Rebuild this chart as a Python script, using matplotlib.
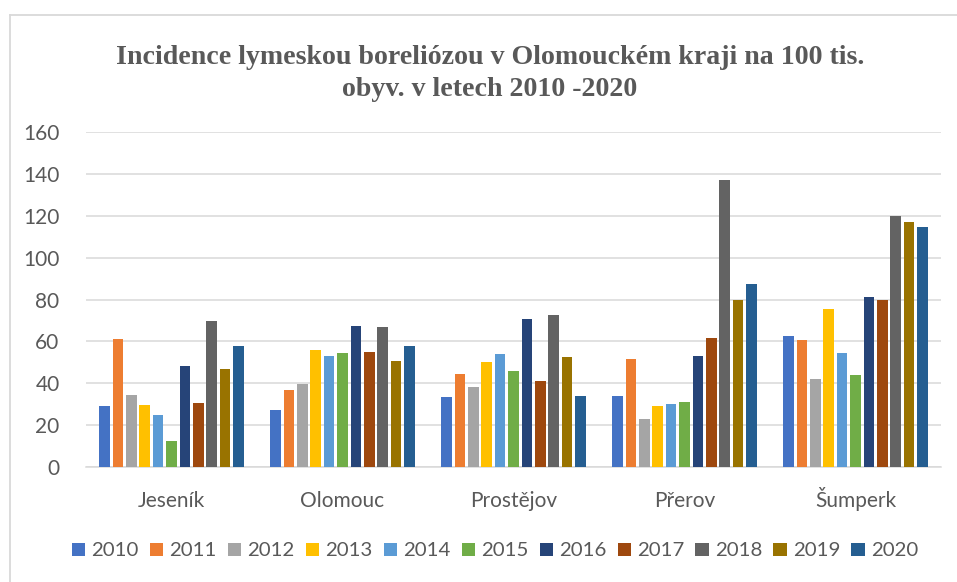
import matplotlib
matplotlib.use("Agg")
from matplotlib import pyplot as plt
from matplotlib.lines import Line2D
import numpy as np

# okresy a roky
okresy = ["Jeseník", "Olomouc", "Prostějov", "Přerov", "Šumperk"]
roky = ["2010", "2011", "2012", "2013", "2014", "2015", "2016", "2017", "2018", "2019", "2020"]

# incidence na 100 tis. obyv., jeden seznam na okres (2010..2020)
jesenik = [29.0, 61.3, 34.2, 29.8, 24.8, 12.4, 48.2, 30.7, 69.7, 47.0, 58.0]
olomouc = [27.4, 36.6, 39.6, 55.9, 53.2, 54.3, 67.5, 55.1, 66.9, 50.6, 57.6]
prostejov = [33.4, 44.6, 38.2, 50.0, 53.8, 45.7, 70.7, 41.2, 72.6, 52.4, 33.9]
prerov = [34.1, 51.6, 23.1, 29.3, 30.1, 31.1, 53.2, 61.8, 137.1, 79.9, 87.3]
sumperk = [62.6, 60.5, 42.0, 75.5, 54.5, 43.9, 81.1, 79.9, 119.9, 116.9, 114.6]

barvy = ["#4472C4", "#ED7D31", "#A5A5A5", "#FFC000", "#5B9BD5", "#70AD47",
         "#264478", "#9E480E", "#636363", "#997300", "#255E91"]

data = np.array([jesenik, olomouc, prostejov, prerov, sumperk])

W, H = 957, 582
fig = plt.figure(figsize=(W / 100, H / 100), dpi=100)
ax = fig.add_axes([86 / W, 1 - 467 / H, (941 - 86) / W, (467 - 132) / H])

sede = "#595959"
slot = 0.86 / len(roky)
x = np.arange(len(okresy))
for i, rok in enumerate(roky):
    pos = x - 0.43 + slot * (i + 0.5)
    ax.bar(pos, data[:, i], width=slot * 0.8, color=barvy[i], label=rok, zorder=3)

ax.set_xlim(-0.5, len(okresy) - 0.5)
ax.set_ylim(0, 160)
ax.set_yticks(np.arange(0, 161, 20))
ax.grid(axis="y", color="#D9D9D9", linewidth=1.1, zorder=0)
for s in ["top", "right", "left"]:
    ax.spines[s].set_visible(False)
ax.spines["bottom"].set_color("#D9D9D9")
ax.spines["bottom"].set_linewidth(1.1)
ax.set_xticks(x)
ax.set_xticklabels(okresy)
ax.tick_params(axis="both", length=0, colors=sede, labelsize=15)
ax.tick_params(axis="y", pad=19)
ax.tick_params(axis="x", pad=29)
for t in ax.get_xticklabels() + ax.get_yticklabels():
    t.set_fontfamily("Lato")
for t in ax.get_xticklabels():
    t.set_verticalalignment("baseline")

tx = 490 / W
fig.text(tx, 1 - 58 / H, "Incidence lymeskou boreliózou v Olomouckém kraji na 100 tis.",
         ha="center", va="center", fontsize=20.1, fontweight="bold",
         family="Liberation Serif", color=sede)
fig.text(tx, 1 - 89 / H, "obyv. v letech 2010 -2020",
         ha="center", va="center", fontsize=20.1, fontweight="bold",
         family="Liberation Serif", color=sede)

leg = fig.legend(loc="center", bbox_to_anchor=(495 / W, 1 - 551 / H), ncol=11,
                 frameon=False, handlelength=0.65, handleheight=0.65,
                 handletextpad=0.3, columnspacing=0.55,
                 prop={"family": "Lato", "size": 14.7})
for t in leg.get_texts():
    t.set_color(sede)

# ramecek grafu
fig.add_artist(Line2D([10 / W, 1], [1 - 15 / H, 1 - 15 / H], color="#D9D9D9", lw=1.3))
fig.add_artist(Line2D([10 / W, 10 / W], [1 - 15 / H, 0], color="#D9D9D9", lw=1.3))

fig.savefig("out.png", dpi=100, facecolor="white")
